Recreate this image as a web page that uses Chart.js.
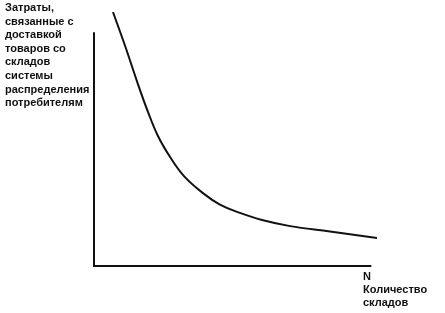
<!DOCTYPE html>
<html>
<head>
<meta charset="utf-8">
<script src="https://cdn.jsdelivr.net/npm/chart.js@4.4.0/dist/chart.umd.min.js"></script>
<style>
    html, body { margin: 0; padding: 0; background: #fff; }
    #wrap { position: relative; width: 445px; height: 313px; }
    #wrap canvas { position: absolute; left: 0; top: 0; }
    .lbl {
        position: absolute;
        font-family: "Liberation Sans", Arial, sans-serif;
        font-weight: bold;
        font-size: 11px;
        line-height: 13.6px;
        color: #111;
        white-space: nowrap;
    }
    #ylabel { left: 5px; top: 1px; }
    #xlabel { left: 363px; top: 270px; line-height: 13px; }
</style>
</head>
<body>
<div id="wrap">
    <canvas id="chart" width="445" height="313"></canvas>
    <div class="lbl" id="ylabel">Затраты,<br>связанные с<br>доставкой<br>товаров со<br>складов<br>системы<br>распределения<br>потребителям</div>
    <div class="lbl" id="xlabel">N<br>Количество<br>складов</div>
</div>
<script>
// number of warehouses (relative units) and delivery cost (relative units)
const warehouses = [6.7, 11.0, 15.5, 19.1, 22.6, 26.9, 31.8, 38.5, 44.5, 51.6, 59.4, 69.3, 83.4, 100];
const deliveryCost = [100, 86.6, 71.7, 60.6, 51.2, 42.9, 35.4, 28.7, 24.2, 20.9, 18.1, 15.7, 13.6, 11.0];
const yAxisTop = 92;
const xAxisEnd = 98;

document.addEventListener("DOMContentLoaded", ()=>{
    const points = warehouses.map((x, i)=>({x: x, y: deliveryCost[i]}));

    const axesPlugin = {
        id: 'axesLines',
        beforeDatasetsDraw(chart){
            const {ctx, scales: {x, y}} = chart;
            const x0 = x.getPixelForValue(0);
            const y0 = y.getPixelForValue(0);
            ctx.save();
            ctx.strokeStyle = '#111';
            ctx.lineWidth = 2;
            ctx.beginPath();
            ctx.moveTo(x0, y.getPixelForValue(yAxisTop));
            ctx.lineTo(x0, y0);
            ctx.lineTo(x.getPixelForValue(xAxisEnd), y0);
            ctx.stroke();
            ctx.restore();
        }
    };

    new Chart(document.getElementById('chart').getContext('2d'), {
        type: 'line',
        data: {
            datasets: [{
                data: points,
                borderColor: '#111',
                borderWidth: 2,
                pointRadius: 0,
                tension: 0.4,
                fill: false
            }]
        },
        options: {
            responsive: false,
            animation: false,
            layout: { padding: { left: 94, right: 68, top: 12, bottom: 47 } },
            plugins: { legend: { display: false }, tooltip: { enabled: false } },
            scales: {
                x: { type: 'linear', min: 0, max: 100, display: false },
                y: { min: 0, max: 100, display: false }
            }
        },
        plugins: [axesPlugin]
    });
});
</script>
</body>
</html>
